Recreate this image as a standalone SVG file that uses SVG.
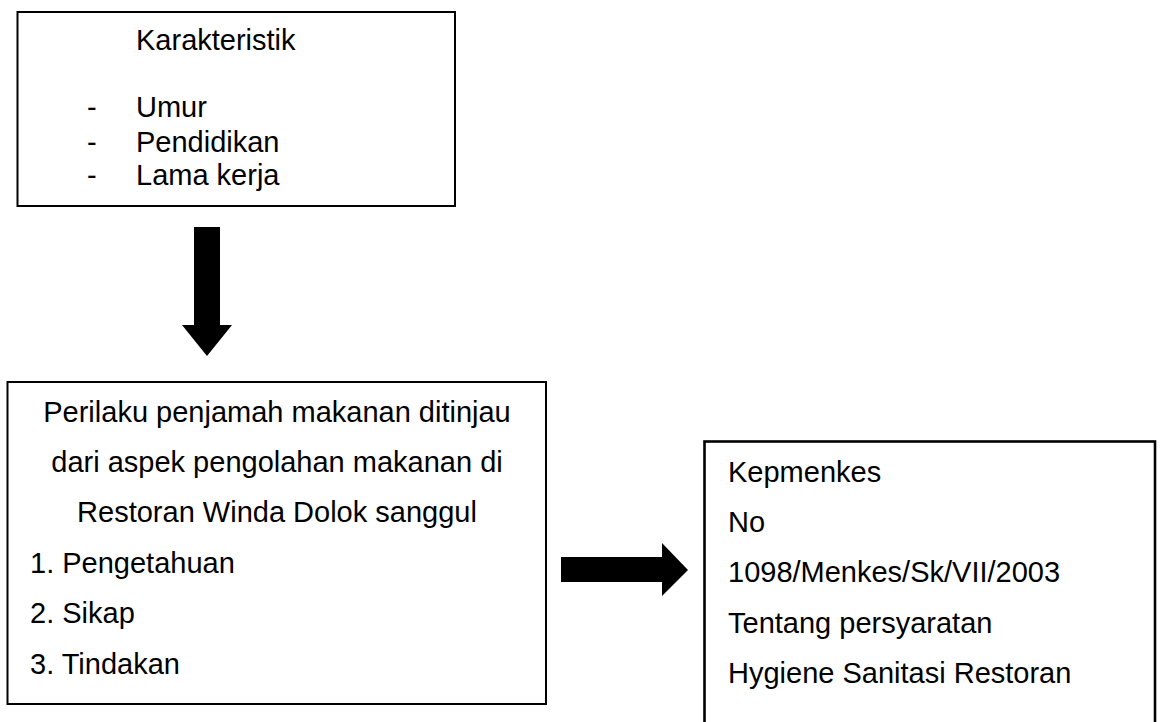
<svg xmlns="http://www.w3.org/2000/svg" width="1160" height="722" viewBox="0 0 1160 722">
<style>
.box{fill:#fff;stroke:#000;stroke-width:2}
.box3{fill:#fff;stroke:#000;stroke-width:2.6}
.t{font-family:"Liberation Sans",Arial,sans-serif;font-size:29px;fill:#000}
.c{text-anchor:middle}
.arrow{fill:#000;stroke:none}
</style>
<rect width="1160" height="722" fill="#fff"/>
<g id="node-karakteristik">
<rect class="box" x="17.5" y="12" width="437.5" height="194"/>
<text class="t" x="136" y="49.5">Karakteristik</text>
<text class="t" x="87" y="117">-</text>
<text class="t" x="136" y="117">Umur</text>
<text class="t" x="87" y="151.5">-</text>
<text class="t" x="136" y="151.5">Pendidikan</text>
<text class="t" x="87" y="185">-</text>
<text class="t" x="136" y="185">Lama kerja</text>
</g>
<g id="node-perilaku">
<rect class="box" x="7.5" y="382" width="538.5" height="322"/>
<text class="t c" x="277" y="421.5">Perilaku penjamah makanan ditinjau</text>
<text class="t c" x="277" y="472">dari aspek pengolahan makanan di</text>
<text class="t c" x="277" y="522.4">Restoran Winda Dolok sanggul</text>
<text class="t" x="30" y="572.9">1. Pengetahuan</text>
<text class="t" x="30" y="623.3">2. Sikap</text>
<text class="t" x="30" y="673.8">3. Tindakan</text>
</g>
<g id="node-kepmenkes">
<rect class="box3" x="704.5" y="441.5" width="450.5" height="300"/>
<text class="t" x="728" y="481.5">Kepmenkes</text>
<text class="t" x="728" y="532">No</text>
<text class="t" x="728" y="582.4">1098/Menkes/Sk/VII/2003</text>
<text class="t" x="728" y="632.9">Tentang persyaratan</text>
<text class="t" x="728" y="683.3">Hygiene Sanitasi Restoran</text>
</g>
<g id="connectors">
<polygon class="arrow" points="194,227 220,227 220,325 232,325 207,356 182,325 194,325"/>
<polygon class="arrow" points="561,557 662,557 662,543 688,570 662,596 662,582 561,582"/>
</g>
</svg>
